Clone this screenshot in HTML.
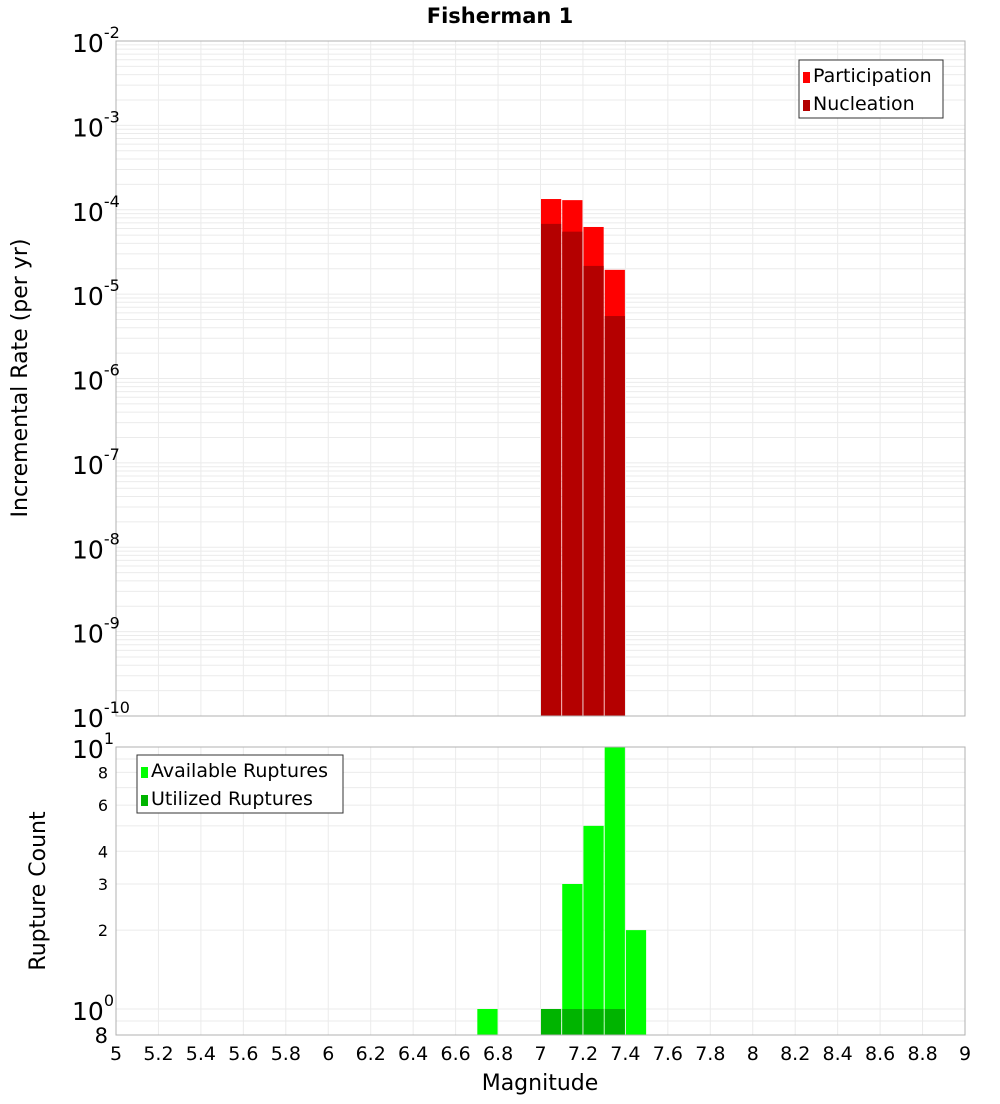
<!DOCTYPE html>
<html><head><meta charset="utf-8"><style>
body{margin:0;background:#fff;font-family:"DejaVu Sans","Liberation Sans",sans-serif;}
svg text{font-family:"DejaVu Sans","Liberation Sans",sans-serif;}
</style></head><body>
<svg id="c" width="1000" height="1100" xmlns="http://www.w3.org/2000/svg">
<text x="500" y="23" text-anchor="middle" font-size="21" font-weight="bold">Fisherman 1</text>
<text transform="translate(27,378) rotate(-90)" text-anchor="middle" font-size="22">Incremental Rate (per yr)</text>
<text transform="translate(45,891) rotate(-90)" text-anchor="middle" font-size="22">Rupture Count</text>
<text x="540" y="1090" text-anchor="middle" font-size="22">Magnitude</text>
</svg>
<script>
const binCenters=[7.05,7.15,7.25,7.35];
const participation=[1.34e-4,1.3e-4,6.25e-5,1.94e-5];
const nucleation=[6.8e-5,5.5e-5,2.16e-5,5.5e-6];
const availCenters=[6.75,7.15,7.25,7.35,7.45];
const available=[1,3,5,10,2];
const utilCenters=[7.05,7.15,7.25,7.35];
const utilized=[1,1,1,1];
const xTicks=[5,5.2,5.4,5.6,5.8,6,6.2,6.4,6.6,6.8,7,7.2,7.4,7.6,7.8,8,8.2,8.4,8.6,8.8,9];
const topExps=[-2,-3,-4,-5,-6,-7,-8,-9,-10];
const botTicks=[8,6,4,3,2];

const svg=document.getElementById('c');const NS='http://www.w3.org/2000/svg';
function mk(t,a,p){const e=document.createElementNS(NS,t);for(const k in a)e.setAttribute(k,a[k]);(p||svg).appendChild(e);return e;}
const X0=116,X1=965;
const xs=m=>X0+(m-5)/4*(X1-X0);
const T0=41,T1=716;
const yT=v=>T0+(-2-Math.log10(v))/8*(T1-T0);
const B0=747,B1=1035;
const yB=v=>B0+(1-Math.log10(v))*(1009-B0);

// grids
const g=mk('g',{});


for(let d=-10;d<-2;d++)for(let k=1;k<10;k++){const y=yT(k*Math.pow(10,d));if(y>=T0&&y<=T1)mk('line',{x1:X0,x2:X1,y1:y,y2:y,stroke:'#ebebeb'},g);}
for(let k=1;k<=10;k++){const y=yB(k);mk('line',{x1:X0,x2:X1,y1:y,y2:y,stroke:'#ebebeb'},g);}
mk('line',{x1:X0,x2:X1,y1:yB(0.9),y2:yB(0.9),stroke:'#ebebeb'},g);
xTicks.forEach(m=>{const x=xs(m);mk('line',{x1:x,x2:x,y1:T0,y2:T1,stroke:'#ebebeb'},g);mk('line',{x1:x,x2:x,y1:B0,y2:B1,stroke:'#ebebeb'},g);});

const bw=xs(5.1)-xs(5);
binCenters.forEach((m,i)=>{
 const x=xs(m-0.05)+0.5;
 const r=mk('rect',{x:x,y:yT(participation[i]),width:bw-1,height:T1-yT(participation[i]),fill:'#ff0000'});
 
 
 const n=mk('rect',{x:x,y:yT(nucleation[i]),width:bw-1,height:T1-yT(nucleation[i]),fill:'#b40000'});
 
 
});
availCenters.forEach((m,i)=>{
 const r=mk('rect',{x:xs(m-0.05)+0.5,y:yB(available[i]),width:bw-1,height:B1-yB(available[i]),fill:'#00ff00'});
 
 
});
utilCenters.forEach((m,i)=>{
 const r=mk('rect',{x:xs(m-0.05)+0.5,y:yB(utilized[i]),width:bw-1,height:B1-yB(utilized[i]),fill:'#00b400'});
 
 
});
const f1=mk('rect',{x:X0,y:T0,width:X1-X0,height:T1-T0,fill:'none',stroke:'#b0b0b0'});


const f2=mk('rect',{x:X0,y:B0,width:X1-X0,height:B1-B0,fill:'none',stroke:'#b0b0b0'});



topExps.forEach(e=>{const y=yT(Math.pow(10,e));
 const t=mk('text',{x:110,y:y+11,'text-anchor':'end','font-size':25});
 
 
 t.innerHTML='10<tspan dy="-14" font-size="16">'+e+'</tspan>';
 t.setAttribute('x',e<=-10?108:72);t.setAttribute('text-anchor','start');
 if(e<=-10)t.setAttribute('x',72);
});
[[1,'1'],[0,'0']].forEach(([e,s])=>{const y=yB(Math.pow(10,e));
 const t=mk('text',{x:72,y:y+11,'font-size':25});
 
 
 t.innerHTML='10<tspan dy="-14" font-size="16">'+s+'</tspan>';
});
botTicks.forEach(v=>{const t=mk('text',{x:108,y:yB(v)+6,'text-anchor':'end','font-size':16});
 
 
 t.textContent=v;});
const t8=mk('text',{x:108,y:B1+8,'text-anchor':'end','font-size':21});


t8.textContent='8';
xTicks.forEach(m=>{const t=mk('text',{x:xs(m),y:1060,'text-anchor':'middle','font-size':19});
 
 
 t.textContent=String(m);});

function legend(x,y,w,items,name){const lg=mk('g',{});
 
 
 mk('rect',{x:x,y:y,width:w,height:58,fill:'#fff',stroke:'#333'},lg);
 items.forEach((it,i)=>{mk('rect',{x:x+4,y:y+12+i*28,width:7,height:11,fill:it[1]},lg);
  const t=mk('text',{x:x+14,y:y+22+i*28,'font-size':19},lg);t.textContent=it[0];});}
legend(799,60,144,[['Participation','#ff0000'],['Nucleation','#b40000']],'top-legend');
legend(137,755,206,[['Available Ruptures','#00ff00'],['Utilized Ruptures','#00b400']],'bottom-legend');
</script>
</body></html>
